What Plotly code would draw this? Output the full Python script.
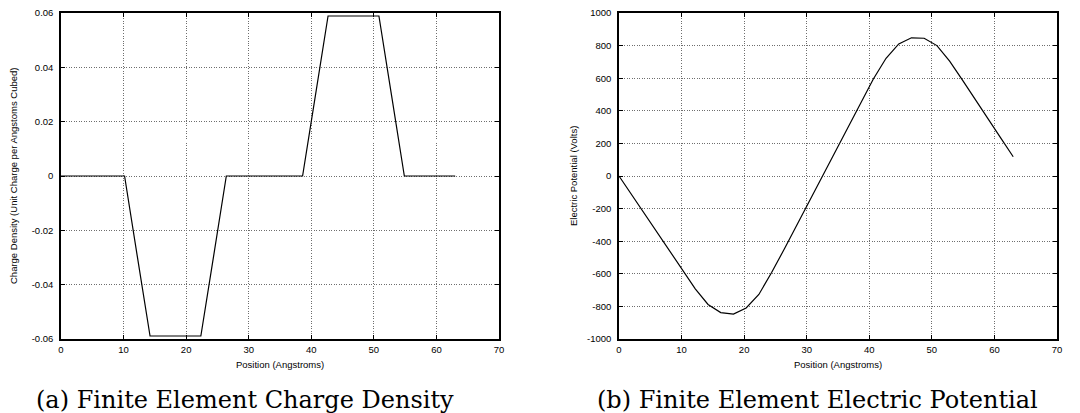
import plotly.graph_objects as go
from plotly.subplots import make_subplots

# Node positions (Angstroms)
positions = [0.00, 2.03, 4.06, 6.10, 8.13, 10.16, 12.19, 14.23, 16.26, 18.29, 20.32,
             22.35, 24.39, 26.42, 28.45, 30.48, 32.52, 34.55, 36.58, 38.61, 40.65,
             42.68, 44.71, 46.74, 48.77, 50.81, 52.84, 54.87, 56.90, 58.94, 60.97, 63.00]

# Charge density (unit charge per cubic Angstrom)
charge_density = [0, 0, 0, 0, 0, 0, -0.0295, -0.0589, -0.0589, -0.0589, -0.0589,
                  -0.0589, -0.0295, 0, 0, 0, 0, 0, 0, 0, 0.0295,
                  0.0589, 0.0589, 0.0589, 0.0589, 0.0589, 0.0295, 0, 0, 0, 0, 0]

# Electric potential (Volts)
potential = [0, -116, -232, -348, -464, -580, -692, -788, -838, -847, -810,
             -727, -592, -448, -298, -148, 2, 152, 302, 450, 595,
             722, 810, 848, 845, 800, 705, 590, 470, 352, 235, 118]

x_ticks = [0, 10, 20, 30, 40, 50, 60, 70]
rho_ticks = [-0.06, -0.04, -0.02, 0, 0.02, 0.04, 0.06]
rho_tick_text = ["-0.06", "-0.04", "-0.02", "0", "0.02", "0.04", "0.06"]
v_ticks = [-1000, -800, -600, -400, -200, 0, 200, 400, 600, 800, 1000]
v_tick_text = ["-1000", "-800", "-600", "-400", "-200", "0", "200", "400", "600", "800", "1000"]

caption_a = "(a) Finite Element Charge Density"
caption_b = "(b) Finite Element Electric Potential"

W, H = 1080, 413
TOP, BOT = 13, 74
fig = make_subplots(rows=1, cols=2)

fig.add_trace(go.Scatter(x=positions, y=charge_density, mode="lines",
                         line=dict(color="black", width=1.2), showlegend=False),
              row=1, col=1)
fig.add_trace(go.Scatter(x=positions, y=potential, mode="lines",
                         line=dict(color="black", width=1.2), showlegend=False),
              row=1, col=2)

tick_font = dict(family="Liberation Sans, Arial, sans-serif", size=9.5, color="black")
common_axis = dict(
    showline=True, linecolor="black", linewidth=1.5, mirror="ticks",
    ticks="inside", ticklen=4, tickcolor="black", tickwidth=1,
    showgrid=True, gridcolor="#6e6e6e", griddash="1px,1.5px", gridwidth=1,
    zeroline=False, tickfont=tick_font, automargin=False,
)

fig.update_layout(
    width=W, height=H,
    margin=dict(l=0, r=0, t=TOP, b=BOT, autoexpand=False),
    paper_bgcolor="white", plot_bgcolor="white",
    xaxis=dict(domain=[61 / W, 499 / W], range=[0, 70], tickvals=x_ticks,
               ticklabelstandoff=1, **common_axis),
    xaxis2=dict(domain=[619 / W, 1057 / W], range=[0, 70], tickvals=x_ticks,
                ticklabelstandoff=1, **common_axis),
    yaxis=dict(domain=[0, 1], range=[-0.06, 0.06], tickvals=rho_ticks,
               ticktext=rho_tick_text, ticklabelstandoff=4, **common_axis),
    yaxis2=dict(domain=[0, 1], range=[-1000, 1000], tickvals=v_ticks,
                ticktext=v_tick_text, ticklabelstandoff=4, **common_axis),
)

label_font = dict(family="Liberation Sans, Arial, sans-serif", size=9.5, color="black")
serif_font = dict(family="DejaVu Serif, Liberation Serif, serif", size=24, color="black")

plot_h = H - TOP - BOT


def py(pix_from_top):
    return 1 - (pix_from_top - TOP) / plot_h


annotations = [
    dict(text="Position (Angstroms)", x=280 / W, y=py(364), font=label_font),
    dict(text="Position (Angstroms)", x=838 / W, y=py(364), font=label_font),
    dict(text="Charge Density (Unit Charge per Angstoms Cubed)", x=13 / W, y=py(176),
         font=label_font, textangle=-90),
    dict(text="Electric Potential (Volts)", x=573 / W, y=py(176),
         font=label_font, textangle=-90),
    dict(text=caption_a, x=245 / W, y=py(400), font=serif_font),
    dict(text=caption_b, x=817 / W, y=py(400), font=serif_font),
]
for a in annotations:
    a.update(xref="paper", yref="paper", showarrow=False,
             xanchor="center", yanchor="middle")
fig.update_layout(annotations=annotations)

fig.write_html(
    "out.html",
    config={"displayModeBar": False},
    post_script="document.body.style.margin='0';document.body.style.padding='0';"
                "document.body.style.overflow='hidden';",
)
